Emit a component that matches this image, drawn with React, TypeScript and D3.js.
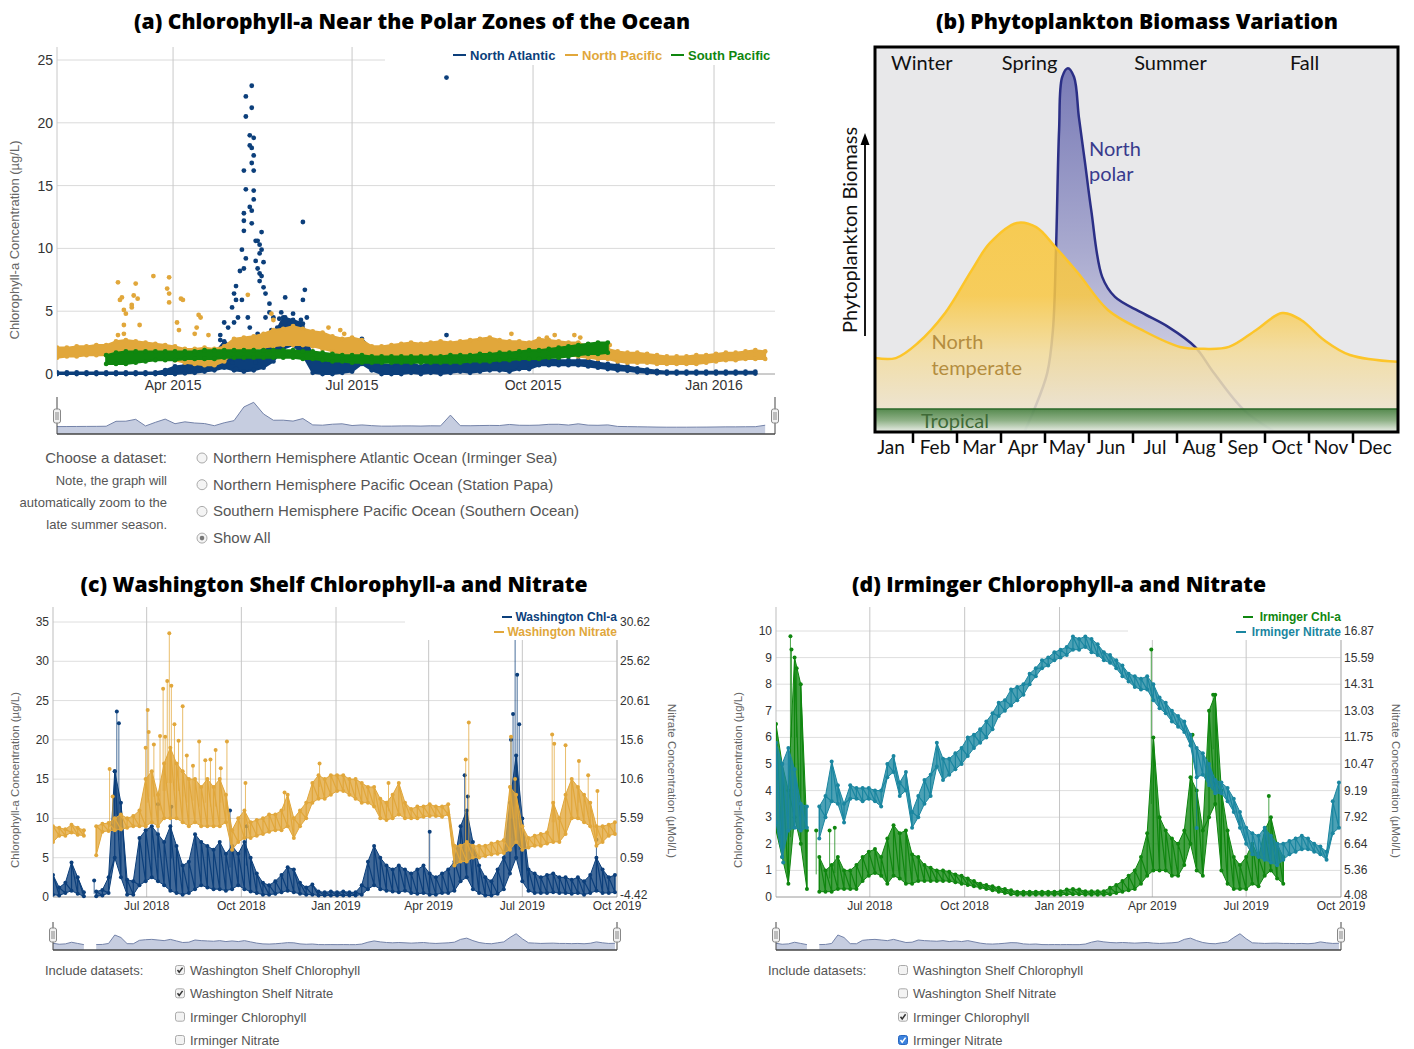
import React from "react";
import * as d3 from "d3";

type Peak = [string, number];
type Pt = [number, number];
type Val = number | null;

const parseDay = d3.utcParse("%Y-%m-%d");
const monthYear = d3.utcFormat("%b %Y");

const NAVY = "#0c3f7b";
const GOLD = "#e1a73b";
const GREEN = "#0f860f";
const TEAL = "#1a86a0";
const SANS = "'Liberation Sans', Arial, Helvetica, sans-serif";
const HEAD = "'Open Sans', 'Noto Sans', sans-serif";
const MYRIAD = "Lato, 'Open Sans', sans-serif";

// ---------- (a) Chlorophyll-a near the polar zones, 5-day bins from 1 Feb 2015 ----------
const polarStart = "2015-02-01";
const polarEnd = "2016-02-01";
const polarStep = 5;
const polarYTicks = [0, 5, 10, 15, 20, 25];
const polarXTicks = ["2015-04-01", "2015-07-01", "2015-10-01", "2016-01-01"];
const polarNames = ["North Atlantic", "North Pacific", "South Pacific"];

const atlanticLo: Val[] = [
  0, 0, 0, 0, 0, 0, 0, 0, 0, 0,
  0, 0, 0, 0.05, 0.1, 0.2, 0.3, 0.5, 0.3, 0.2,
  0.3, 0.5, 1.0, 2.0, 2.3, 1.5, 0.1, 0, 0, 0.1,
  0.2, 0.8, 0.3, 0, 0, 0, 0.1, 0, 0.1, 0,
  0.1, 0.2, 0.1, 0.2, 0.3, 0.3, 0.2, 0.4, 0.4, 0.7,
  0.7, 0.7, 0.7, 0.7, 0.6, 0.5, 0.4, 0.3, 0.25, 0.15,
  0.1, 0.05, 0.03, 0.03, 0.03, 0.03, 0.03, 0.03, 0.03, 0.03,
  0.03, 0.03, null,
];
const atlanticHi: Val[] = [
  0.12, 0.12, 0.12, 0.12, 0.12, 0.12, 0.12, 0.12, 0.12, 0.12,
  0.12, 0.3, 0.6, 0.7, 1.0, 1.3, 1.6, 2.6, 2.0, 1.2,
  1.5, 2.0, 3.0, 4.5, 4.3, 4.0, 1.2, 1.0, 0.9, 1.2,
  1.5, 2.8, 2.0, 0.8, 0.7, 1.0, 0.9, 0.6, 1.0, 0.8,
  1.3, 1.2, 1.0, 1.1, 1.2, 1.0, 1.3, 1.3, 1.2, 1.2,
  1.2, 1.1, 1.1, 1.1, 1.1, 0.9, 0.8, 0.7, 0.6, 0.45,
  0.35, 0.25, 0.18, 0.18, 0.18, 0.18, 0.18, 0.18, 0.18, 0.18,
  0.18, 0.18, null,
];
const pacificLo: Val[] = [
  1.3, 1.4, 1.4, 1.5, 1.5, 1.5, 1.7, 1.8, 1.8, 1.6,
  1.5, 1.4, 1.1, 0.9, 0.8, 0.7, 0.7, 1.0, 1.8, 2.0,
  2.0, 2.1, 2.2, 2.3, 2.3, 2.3, 2.2, 2.0, 1.8, 1.5,
  1.2, 1.1, 1.1, 1.2, 1.3, 1.4, 1.4, 1.4, 1.5, 1.5,
  1.4, 1.4, 1.3, 1.4, 1.5, 1.4, 1.5, 1.6, 1.5, 1.5,
  1.6, 1.5, 1.5, 1.4, 1.3, 1.2, 1.2, 1.0, 0.9, 0.9,
  0.9, 0.8, 0.8, 0.8, 0.8, 0.8, 0.9, 1.0, 1.1, 1.1,
  1.2, 1.2, 1.2,
];
const pacificHi: Val[] = [
  2.1, 2.1, 2.2, 2.2, 2.3, 2.3, 2.6, 2.7, 2.6, 2.5,
  2.4, 2.3, 2.2, 2.0, 2.0, 2.1, 2.0, 2.2, 2.8, 2.9,
  3.0, 3.2, 3.5, 3.6, 3.8, 3.6, 3.4, 3.3, 3.0, 2.8,
  2.9, 2.7, 2.2, 2.2, 2.3, 2.4, 2.5, 2.4, 2.5, 2.6,
  2.5, 2.6, 2.7, 2.8, 2.9, 2.7, 2.6, 2.6, 2.5, 2.8,
  2.7, 2.6, 2.5, 2.5, 2.2, 2.1, 2.0, 1.8, 1.7, 1.7,
  1.6, 1.5, 1.4, 1.4, 1.4, 1.5, 1.5, 1.6, 1.7, 1.7,
  1.8, 1.9, 1.8,
];
const southLo: Val[] = [
  null, null, null, null, null, 0.8, 0.8, 0.8, 0.9, 1.0,
  1.1, 1.1, 1.1, 1.2, 1.2, 1.2, 1.2, 1.3, 1.3, 1.3,
  1.3, 1.3, 1.3, 1.3, 1.3, 1.2, 1.2, 1.1, 1.0, 1.0,
  0.9, 0.9, 0.9, 0.9, 0.9, 0.9, 0.9, 0.9, 0.9, 0.9,
  0.9, 0.9, 1.0, 1.0, 1.0, 1.1, 1.1, 1.2, 1.2, 1.2,
  1.3, 1.3, 1.4, 1.5, 1.6, 1.6, 1.7,
];
const southHi: Val[] = [
  null, null, null, null, null, 1.5, 1.7, 1.8, 1.8, 1.8,
  1.8, 1.8, 1.8, 1.8, 1.8, 1.9, 1.9, 1.9, 1.9, 1.9,
  1.9, 1.9, 1.9, 1.9, 1.9, 1.8, 1.8, 1.7, 1.6, 1.5,
  1.5, 1.5, 1.4, 1.4, 1.4, 1.4, 1.4, 1.4, 1.4, 1.4,
  1.5, 1.5, 1.5, 1.6, 1.6, 1.7, 1.7, 1.8, 1.9, 1.9,
  2.0, 2.1, 2.2, 2.3, 2.4, 2.5, 2.5,
];
const atlanticBloom: Peak[] = [
  ["2015-04-25", 3.1], ["2015-04-25", 2.7], ["2015-04-27", 4.1], ["2015-04-29", 3.7],
  ["2015-05-01", 5.3], ["2015-05-01", 0.9], ["2015-05-02", 6.4], ["2015-05-02", 4.1],
  ["2015-05-03", 7.0], ["2015-05-03", 0.4], ["2015-05-03", 5.9], ["2015-05-04", 4.5],
  ["2015-05-05", 8.2], ["2015-05-06", 9.9], ["2015-05-06", 5.9], ["2015-05-07", 12.2],
  ["2015-05-07", 16.2], ["2015-05-07", 12.8], ["2015-05-07", 11.4], ["2015-05-07", 8.4],
  ["2015-05-08", 22.1], ["2015-05-08", 9.2], ["2015-05-08", 20.5], ["2015-05-08", 14.7],
  ["2015-05-09", 4.5], ["2015-05-10", 19.0], ["2015-05-10", 18.2], ["2015-05-10", 13.3],
  ["2015-05-10", 3.7], ["2015-05-11", 21.2], ["2015-05-11", 18.0], ["2015-05-11", 16.8],
  ["2015-05-11", 13.0], ["2015-05-11", 12.0], ["2015-05-11", 22.95], ["2015-05-12", 14.6],
  ["2015-05-12", 13.9], ["2015-05-12", 18.8], ["2015-05-12", 17.4], ["2015-05-12", 16.2],
  ["2015-05-13", 10.6], ["2015-05-13", 9.0], ["2015-05-13", 0.9], ["2015-05-14", 10.6],
  ["2015-05-14", 8.4], ["2015-05-14", 3.2], ["2015-05-15", 10.3], ["2015-05-15", 9.6],
  ["2015-05-15", 8.0], ["2015-05-15", 7.4], ["2015-05-16", 11.3], ["2015-05-16", 9.9],
  ["2015-05-16", 7.8], ["2015-05-16", 2.7], ["2015-05-17", 6.9], ["2015-05-17", 8.9],
  ["2015-05-18", 6.4], ["2015-05-18", 4.5], ["2015-05-20", 5.6], ["2015-05-20", 4.9],
  ["2015-05-21", 3.5], ["2015-05-22", 4.5], ["2015-05-24", 3.7], ["2015-05-25", 4.4],
  ["2015-05-26", 4.9], ["2015-05-27", 3.2], ["2015-05-28", 6.1], ["2015-05-28", 4.5],
  ["2015-05-29", 3.3], ["2015-05-30", 4.0], ["2015-06-01", 4.8], ["2015-06-03", 3.7],
  ["2015-06-03", 3.2], ["2015-06-04", 2.7], ["2015-06-05", 4.3], ["2015-06-06", 5.9],
  ["2015-06-06", 3.4], ["2015-06-06", 12.1], ["2015-06-07", 6.7], ["2015-06-08", 4.5],
  ["2015-06-08", 3.2], ["2015-08-18", 23.6], ["2015-08-18", 3.1],
];
const pacificSpikes: Peak[] = [
  ["2015-03-04", 7.3], ["2015-03-05", 5.9], ["2015-03-06", 6.1], ["2015-03-07", 5.1],
  ["2015-03-07", 3.9], ["2015-03-07", 3.2], ["2015-03-08", 4.8], ["2015-03-04", 3.1],
  ["2015-03-11", 5.3], ["2015-03-11", 5.5], ["2015-03-12", 6.25], ["2015-03-13", 7.2],
  ["2015-03-14", 6.0], ["2015-03-15", 3.9], ["2015-03-22", 7.8], ["2015-03-29", 6.8],
  ["2015-03-30", 6.4], ["2015-03-30", 7.7], ["2015-03-30", 5.7], ["2015-04-03", 4.1],
  ["2015-04-04", 3.5], ["2015-04-05", 6.0], ["2015-04-06", 5.9], ["2015-04-12", 3.2],
  ["2015-04-13", 3.7], ["2015-04-14", 4.7], ["2015-04-15", 4.5], ["2015-04-19", 3.1],
  ["2015-05-09", 6.3], ["2015-05-21", 4.8], ["2015-05-22", 4.3], ["2015-06-19", 3.7],
  ["2015-06-25", 3.5], ["2015-06-27", 3.2], ["2015-09-20", 3.2], ["2015-10-08", 2.9],
  ["2015-10-12", 3.1], ["2015-10-22", 3.1], ["2015-10-25", 2.9], ["2015-11-09", 2.3],
];
const radioOptions = [
  "Northern Hemisphere Atlantic Ocean (Irminger Sea)",
  "Northern Hemisphere Pacific Ocean (Station Papa)",
  "Southern Hemisphere Pacific Ocean (Southern Ocean)",
  "Show All",
];
const noteLines = ["Note, the graph will", "automatically zoom to the", "late summer season."];

// ---------- (b) seasonal biomass sketch (month, relative biomass 0-100) ----------
const months = ["Jan", "Feb", "Mar", "Apr", "May", "Jun", "Jul", "Aug", "Sep", "Oct", "Nov", "Dec"];
const seasons = ["Winter", "Spring", "Summer", "Fall"];
const seasonMonth = [1.2, 3.65, 6.85, 9.9];
const temperateBiomass: Pt[] = [
  [0.14, 19.2], [0.61, 19.2], [1.11, 23.1], [1.73, 30.9], [2.34, 42.1], [2.75, 49.1],
  [3.36, 54.3], [3.8, 53.2], [4.23, 48.1], [4.75, 41.3], [5.43, 31.7], [6.2, 26.5],
  [7.07, 22.1], [7.61, 21.6], [8.18, 22.1], [8.8, 26.5], [9.39, 30.9], [9.82, 29.1],
  [10.34, 23.9], [10.93, 20.0], [12.05, 18.2],
];
const polarBiomass: Pt[] = [
  [3.53, 0], [3.75, 5.7], [4.05, 15.3], [4.18, 26.5], [4.25, 47.3], [4.32, 78.4],
  [4.39, 92.2], [4.52, 94.5], [4.66, 92.2], [4.77, 81.8], [4.91, 69.9], [5.05, 57.7],
  [5.3, 40.3], [5.59, 35.1], [6.2, 31.0], [6.8, 27.3], [7.41, 22.1], [7.84, 15.3],
  [8.52, 5.7], [9.23, 0],
];
const tropicalBiomass = 6;

// ---------- (c)/(d) coastal and Irminger moorings, 6-day bins from 1 Apr 2018 ----------
const shelfStart = "2018-04-01";
const shelfEnd = "2019-10-01";
const shelfStep = 6;
const shelfXTicks = ["2018-07-01", "2018-10-01", "2019-01-01", "2019-04-01", "2019-07-01", "2019-10-01"];
const washLeftTicks = [0, 5, 10, 15, 20, 25, 30, 35];
const washRightTicks = [-4.42, 0.59, 5.59, 10.6, 15.6, 20.61, 25.62, 30.62];
const irmLeftTicks = [0, 1, 2, 3, 4, 5, 6, 7, 8, 9, 10];
const irmRightTicks = [4.08, 5.36, 6.64, 7.92, 9.19, 10.47, 11.75, 13.03, 14.31, 15.59, 16.87];
const datasets = ["Washington Shelf Chlorophyll", "Washington Shelf Nitrate", "Irminger Chlorophyll", "Irminger Nitrate"];

const washChlLo: Val[] = [
  0.3, 0.2, 0.5, 0.8, 0.4, 0.1, null, 0.1, 0.2, 0.5,
  5.0, 2.5, 0.3, 0.3, 1.5, 2.0, 2.5, 2.0, 1.5, 0.8,
  0.5, 0.3, 0.5, 1.0, 1.5, 1.2, 1.0, 1.0, 0.8, 1.0,
  1.5, 1.0, 0.7, 0.5, 0.3, 0.3, 0.4, 0.6, 0.8, 0.6,
  0.4, 0.3, 0.3, 0.2, 0.2, 0.2, 0.2, 0.2, 0.2, 0.2,
  0.3, 1.0, 1.5, 1.0, 0.8, 0.7, 0.6, 0.8, 0.5, 0.4,
  0.5, 0.3, 0.3, 0.5, 0.5, 0.8, 2.0, 2.5, 1.0, 0.5,
  0.2, 0.2, 0.4, 1.0, 3.0, 5.0, 2.0, 0.8, 0.5, 0.5,
  0.5, 0.6, 0.5, 0.5, 0.4, 0.5, 0.3, 0.5, 0.8, 0.5,
  0.5, 0.6,
];
const washChlHi: Val[] = [
  2.8, 1.2, 1.8, 4.4, 2.5, 0.6, null, 0.7, 0.9, 2.5,
  16, 12, 2.2, 2.0, 7.5, 8.5, 9.0, 8.0, 7.0, 9.0,
  6.5, 4.0, 4.5, 8.0, 7.0, 6.5, 6.0, 7.0, 5.5, 6.5,
  5.5, 7.0, 5.0, 3.0, 1.8, 1.5, 2.0, 2.8, 3.8, 3.5,
  1.8, 1.2, 1.6, 0.7, 0.6, 0.7, 0.6, 0.7, 0.6, 0.6,
  1.5, 4.5, 6.5, 5.0, 4.0, 3.5, 4.0, 3.5, 3.0, 3.5,
  4.0, 3.0, 2.5, 3.0, 3.5, 4.5, 9.0, 11.0, 7.0, 4.0,
  2.5, 2.0, 3.5, 5.0, 12.0, 18.0, 10.0, 3.5, 3.0, 2.5,
  2.8, 3.0, 2.5, 2.5, 2.2, 2.5, 2.0, 2.8, 5.0, 3.5,
  2.5, 2.8,
];
const washChlPeaks: Peak[] = [
  ["2018-05-11", 2.1], ["2018-05-31", 16], ["2018-06-02", 23.6], ["2018-06-04", 22.1],
  ["2018-07-12", 11.8], ["2018-07-25", 11.5], ["2018-09-20", 11.0], ["2018-10-06", 9.0],
  ["2019-04-02", 8.3], ["2019-05-06", 15.5], ["2019-05-09", 12.8], ["2019-06-20", 20.0],
  ["2019-06-22", 23.3], ["2019-06-24", 36.0], ["2019-06-26", 28.3], ["2019-06-28", 22.0],
  ["2019-09-11", 7.3],
];
const washNitLo: Val[] = [
  2.6, 3.4, 3.4, 3.8, 3.5, 3.4, null, 0.9, 3.9, 4.0,
  4.1, 4.2, 4.4, 4.6, 4.6, 4.6, 5.1, 4.6, 5.6, 5.6,
  5.6, 5.1, 4.6, 5.1, 4.6, 4.6, 4.6, 4.6, 5.1, 1.6,
  2.6, 3.1, 3.1, 3.4, 3.6, 3.9, 4.1, 4.1, 4.6, 3.1,
  4.6, 5.6, 7.6, 8.1, 8.1, 8.6, 9.1, 9.1, 8.6, 8.1,
  7.6, 7.6, 7.1, 5.6, 5.4, 5.6, 6.1, 5.6, 5.6, 5.6,
  5.8, 5.9, 5.9, 5.8, 6.1, -0.4, 0.1, 0.1, 0.6, 0.6,
  0.8, 1.0, 1.1, 1.2, 1.6, 2.6, 1.6, 1.9, 2.1, 2.1,
  2.4, 2.6, 2.6, 3.6, 5.6, 5.6, 5.1, 4.6, 2.1, 2.6,
  3.4, 3.6,
];
const washNitHi: Val[] = [
  4.6, 4.4, 4.2, 4.8, 4.4, 4.1, null, 4.6, 4.9, 5.0,
  5.6, 6.1, 5.6, 5.9, 6.6, 10.6, 11.6, 8.6, 12.6, 14.6,
  12.6, 11.6, 10.6, 10.6, 9.6, 10.6, 9.6, 10.6, 8.6, 4.1,
  5.6, 6.6, 5.1, 5.4, 5.6, 6.1, 6.1, 6.6, 8.6, 5.6,
  6.6, 7.6, 10.1, 11.1, 10.6, 11.1, 11.1, 11.1, 10.6, 10.6,
  10.1, 9.6, 9.6, 8.1, 7.6, 8.6, 10.1, 7.6, 6.8, 7.1,
  7.1, 7.4, 7.1, 7.1, 7.4, 2.1, 2.1, 2.6, 2.1, 2.1,
  2.1, 2.4, 2.6, 2.8, 9.6, 8.6, 4.6, 3.1, 3.4, 3.6,
  3.8, 7.6, 5.6, 8.6, 10.6, 9.6, 8.6, 7.6, 4.6, 4.6,
  4.8, 5.1,
];
const washNitPeaks: Peak[] = [
  ["2018-05-26", 11.9], ["2018-05-29", 8.4], ["2018-06-30", 14.6], ["2018-07-02", 19.4],
  ["2018-07-03", 16.6], ["2018-07-08", 15.0], ["2018-07-14", 16.1], ["2018-07-17", 22.1],
  ["2018-07-19", 16.0], ["2018-07-21", 23.1], ["2018-07-23", 29.2], ["2018-07-25", 22.5],
  ["2018-07-28", 17.6], ["2018-08-01", 15.5], ["2018-08-05", 19.9], ["2018-08-09", 13.6],
  ["2018-08-15", 12.3], ["2018-08-21", 15.4], ["2018-08-27", 13.0], ["2018-09-01", 13.1],
  ["2018-09-06", 14.3], ["2018-09-11", 12.0], ["2018-09-17", 15.4], ["2018-10-05", 10.1],
  ["2018-11-12", 8.9], ["2018-12-16", 12.6], ["2019-02-21", 10.1], ["2019-05-07", 13.1],
  ["2019-05-10", 17.8], ["2019-06-20", 16.0], ["2019-06-24", 10.6], ["2019-07-30", 16.3],
  ["2019-08-01", 15.1], ["2019-08-12", 14.9], ["2019-08-25", 12.9], ["2019-09-03", 11.1],
  ["2019-09-12", 9.1],
];
const irmChlLo: Val[] = [
  2.5, 1.5, 0.5, 3.0, 2.0, 0.3, null, 0.2, 0.2, 0.2,
  0.3, 0.3, 0.3, 0.3, 0.6, 0.8, 0.9, 0.8, 0.5, 0.8,
  0.7, 0.5, 0.5, 0.6, 0.6, 0.6, 0.6, 0.6, 0.6, 0.55,
  0.5, 0.45, 0.4, 0.35, 0.3, 0.25, 0.2, 0.15, 0.1, 0.08,
  0.08, 0.08, 0.08, 0.08, 0.08, 0.08, 0.08, 0.1, 0.1, 0.1,
  0.08, 0.08, 0.08, 0.08, 0.1, 0.15, 0.2, 0.25, 0.3, 0.5,
  0.8, 1.0, 1.0, 1.0, 0.8, 0.8, 1.2, 2.0, 1.0, 0.8,
  3.0, 3.5, 1.0, 0.5, 0.3, 0.3, 0.3, 0.5, 0.4, 0.8,
  1.0, 0.7, 0.5,
];
const irmChlHi: Val[] = [
  6.5, 5.0, 4.0, 9.0, 8.0, 2.5, null, 1.5, 1.0, 1.2,
  1.5, 1.0, 1.0, 1.2, 1.5, 1.7, 1.8, 1.5, 2.2, 2.7,
  2.4, 2.5, 1.6, 1.5, 1.2, 1.1, 1.0, 1.0, 0.95, 0.85,
  0.8, 0.7, 0.6, 0.5, 0.45, 0.4, 0.35, 0.3, 0.25, 0.2,
  0.2, 0.2, 0.2, 0.2, 0.2, 0.2, 0.22, 0.28, 0.3, 0.28,
  0.22, 0.22, 0.22, 0.22, 0.35, 0.45, 0.6, 0.8, 1.0, 1.5,
  2.4, 6.0, 3.0, 2.5, 2.2, 2.0, 2.5, 4.5, 4.0, 2.5,
  7.0, 7.6, 4.0, 2.5, 1.5, 1.2, 1.5, 2.0, 1.5, 2.5,
  3.0, 2.0, 1.5,
];
const irmChlPeaks: Peak[] = [
  ["2018-04-15", 9.8], ["2018-04-16", 9.3], ["2018-04-21", 8.6], ["2018-05-10", 2.5],
  ["2018-05-23", 2.5], ["2018-05-28", 2.6], ["2019-03-31", 9.3], ["2019-05-10", 6.1],
  ["2019-05-30", 7.6], ["2019-07-23", 3.8],
];
const irmNitLo: Val[] = [
  7.66, 6.0, 7.28, 7.41, 7.28, 7.41, null, 6.89, 7.92, 8.68,
  8.56, 7.66, 8.81, 8.81, 8.68, 8.81, 8.68, 8.43, 9.84, 10.09,
  8.94, 9.2, 7.41, 7.92, 8.56, 8.94, 10.35, 9.71, 9.96, 10.22,
  10.48, 10.86, 11.24, 11.5, 11.75, 12.14, 12.78, 13.03, 13.29, 13.54,
  13.8, 14.31, 14.7, 15.08, 15.21, 15.46, 15.59, 15.72, 15.97, 15.97,
  16.1, 15.85, 15.72, 15.46, 15.34, 15.08, 14.7, 14.44, 14.18, 14.06,
  14.06, 13.54, 13.16, 12.91, 12.52, 12.27, 12.01, 11.37, 9.84, 9.96,
  9.45, 9.07, 9.07, 8.68, 8.17, 7.41, 6.64, 6.13, 6.0, 5.87,
  5.74, 5.61, 5.87, 6.13, 6.25, 6.38, 6.38, 6.25, 6.13, 5.87,
  7.15, 7.41,
];
const irmNitHi: Val[] = [
  11.5, 10.48, 11.24, 10.22, 8.56, 8.43, null, 8.43, 8.94, 10.6,
  9.45, 8.56, 9.45, 9.32, 9.32, 9.32, 9.2, 9.2, 10.48, 10.86,
  9.58, 10.09, 8.17, 8.94, 9.71, 9.96, 11.5, 10.73, 10.73, 10.99,
  11.24, 11.75, 11.88, 12.14, 12.52, 12.91, 13.42, 13.54, 14.06, 14.18,
  14.31, 14.82, 15.08, 15.46, 15.59, 15.85, 15.97, 16.1, 16.61, 16.49,
  16.61, 16.49, 16.23, 15.85, 15.72, 15.46, 15.21, 14.82, 14.7, 14.57,
  14.7, 14.31, 13.67, 13.42, 13.03, 12.78, 12.52, 11.88, 11.24, 10.99,
  10.48, 9.71, 9.58, 9.32, 8.81, 8.17, 7.41, 7.15, 7.02, 7.41,
  7.02, 6.64, 6.64, 6.77, 6.89, 7.02, 6.89, 6.64, 6.51, 6.25,
  8.68, 9.58,
];
const irmNitPeaks: Peak[] = [["2018-04-08", 5.74], ["2019-05-14", 7.4]];

// ---------- helpers ----------
function binDays(start: string, step: number, n: number) {
  const s = parseDay(start)!;
  return d3.range(n).map((i) => d3.utcDay.offset(s, i * step));
}

function Band({ x, y, start, step, lo, hi, peaks, color, dot, stems }: any) {
  const days = binDays(start, step, lo.length);
  const rows = days.map((d: Date, i: number) => ({ d, lo: lo[i], hi: hi[i] }));
  const ok = (r: any) => r && r.lo != null && r.hi != null;
  const area = d3
    .area<any>()
    .defined(ok)
    .x((r) => x(r.d))
    .y0((r) => y(r.lo))
    .y1((r) => y(r.hi));
  // sawtooth through bin extremes: lo, hi, next lo, next hi ...
  const zig = rows.flatMap((r: any) => [
    { d: r.d, v: r.lo },
    { d: r.d, v: r.hi },
  ]);
  const zigLine = d3
    .line<any>()
    .defined((p) => p.v != null)
    .x((p) => x(p.d))
    .y((p) => y(p.v));
  return (
    <g>
      <path
        d={area(rows) ?? ""}
        fill={color}
        fillOpacity={stems ? 0.78 : 1}
        stroke={color}
        strokeWidth={stems ? 1 : 2}
        strokeLinejoin="round"
      />
      {stems && <path d={zigLine(zig) ?? ""} fill="none" stroke={color} strokeWidth={1.2} />}
      {rows.filter(ok).map((r: any, i: number) => (
        <g key={i}>
          <circle cx={x(r.d)} cy={y(r.lo)} r={dot} fill={color} />
          <circle cx={x(r.d)} cy={y(r.hi)} r={dot} fill={color} />
        </g>
      ))}
      {peaks.map(([ds, v]: Peak, i: number) => {
        const d = parseDay(ds)!;
        const k = Math.max(0, Math.min(rows.length - 1, Math.round(d3.utcDay.count(days[0], d) / step)));
        const row = rows[k];
        const base = ok(row) ? (row.lo + row.hi) / 2 : v;
        return (
          <g key={"p" + i}>
            {stems && (
              <line x1={x(d)} x2={x(d)} y1={y(base)} y2={y(v)} stroke={color} strokeWidth={1} strokeOpacity={0.75} />
            )}
            <circle cx={x(d)} cy={y(v)} r={dot} fill={color} />
          </g>
        );
      })}
    </g>
  );
}

function Navigator({ x, y, points, base, lineTop, handleY }: any) {
  const [x0, x1] = x.range();
  const area = d3
    .area<any>()
    .x((p) => x(p[0]))
    .y0(base)
    .y1((p) => y(p[1]))
    .defined((p) => p[1] != null);
  const line = area.lineY1();
  return (
    <g>
      <path d={area(points) ?? ""} fill="#c6cde0" />
      <path d={line(points) ?? ""} fill="none" stroke="#7483a9" strokeWidth={1} />
      <line x1={x0} x2={x1} y1={base} y2={base} stroke="#444" strokeWidth={1.5} />
      {[x0, x1].map((hx: number, i: number) => (
        <g key={i}>
          <line x1={hx} x2={hx} y1={lineTop} y2={base} stroke="#444" strokeWidth={1} />
          <rect x={hx - 3.5} y={handleY - 7} width={7} height={14} rx={2} fill="#f2f2f2" stroke="#888" />
          <line x1={hx - 1} x2={hx - 1} y1={handleY - 4} y2={handleY + 4} stroke="#888" />
          <line x1={hx + 1} x2={hx + 1} y1={handleY - 4} y2={handleY + 4} stroke="#888" />
        </g>
      ))}
    </g>
  );
}

function Checkbox({ cx, cy, checked, focus }: any) {
  return (
    <g>
      <rect
        x={cx - 4.5}
        y={cy - 4.5}
        width={9}
        height={9}
        rx={2}
        fill={focus ? "#3c82de" : "#f3f3f3"}
        stroke={focus ? "#2767c0" : "#aaa"}
      />
      {checked && (
        <path
          d={`M${cx - 2.5},${cy} L${cx - 0.8},${cy + 2.2} L${cx + 2.6},${cy - 2.4}`}
          fill="none"
          stroke={focus ? "#fff" : "#333"}
          strokeWidth={1.5}
        />
      )}
    </g>
  );
}

// ---------- panel (a) ----------
function PanelA() {
  const x = d3.scaleUtc([parseDay(polarStart)!, parseDay(polarEnd)!], [57, 775]);
  const y = d3.scaleLinear([0, 25], [374, 60]);
  const top = 47;
  const colors = [NAVY, GOLD, GREEN];
  const legendX = [453, 565, 671];

  const days = binDays(polarStart, polarStep, atlanticHi.length);
  const bands: [Val[], Val[]][] = [
    [atlanticLo, atlanticHi],
    [pacificLo, pacificHi],
    [southLo, southHi],
  ];
  const scattered = [...atlanticBloom, ...pacificSpikes];
  const navPoints = days.map((d, i) => {
    const vals: number[] = [];
    bands.forEach(([lo, hi]) => {
      if (lo[i] != null && hi[i] != null) vals.push(((lo[i] as number) + (hi[i] as number)) / 2);
    });
    scattered.forEach(([ds, v]) => {
      if (Math.round(d3.utcDay.count(days[0], parseDay(ds)!) / polarStep) === i) vals.push(v);
    });
    return [d, d3.mean(vals) ?? 0];
  });
  const navY = d3.scaleLinear([-2.5, 13], [434, 400]);

  return (
    <g>
      <defs>
        <clipPath id="clipA">
          <rect x={57} y={top} width={718} height={331} />
        </clipPath>
      </defs>
      <text x={412} y={29} textAnchor="middle" fontFamily={HEAD} fontWeight={800} fontSize={21} textLength={556} lengthAdjust="spacingAndGlyphs">
        (a) Chlorophyll-a Near the Polar Zones of the Ocean
      </text>
      {polarYTicks.slice(1).map((t) => (
        <line key={t} x1={57} x2={775} y1={y(t)} y2={y(t)} stroke="#dadada" />
      ))}
      {polarXTicks.map((t) => (
        <line key={t} x1={x(parseDay(t)!)} x2={x(parseDay(t)!)} y1={top} y2={374} stroke="#c9c9c9" />
      ))}
      <line x1={57} x2={57} y1={top} y2={374} stroke="#c8c8c8" />
      <line x1={57} x2={775} y1={374} y2={374} stroke="#9a9a9a" />
      <g clipPath="url(#clipA)">
        <Band x={x} y={y} start={polarStart} step={polarStep} lo={atlanticLo} hi={atlanticHi} peaks={atlanticBloom} color={NAVY} dot={2.4} />
        <Band x={x} y={y} start={polarStart} step={polarStep} lo={pacificLo} hi={pacificHi} peaks={pacificSpikes} color={GOLD} dot={2.4} />
        <Band x={x} y={y} start={polarStart} step={polarStep} lo={southLo} hi={southHi} peaks={[]} color={GREEN} dot={2.4} />
      </g>
      <rect x={385} y={38} width={392} height={27} fill="#fff" />
      {polarNames.map((n, i) => (
        <g key={n}>
          <line x1={legendX[i]} x2={legendX[i] + 13} y1={55} y2={55} stroke={colors[i]} strokeWidth={2} />
          <text x={legendX[i] + 17} y={60} fontSize={13} fontWeight={700} fill={colors[i]}>
            {n}
          </text>
        </g>
      ))}
      {polarYTicks.map((t) => (
        <text key={t} x={53} y={y(t) + 5} textAnchor="end" fontSize={14} fill="#333">
          {t}
        </text>
      ))}
      {polarXTicks.map((t) => (
        <text key={t} x={x(parseDay(t)!)} y={390} textAnchor="middle" fontSize={14} fill="#333">
          {monthYear(parseDay(t)!)}
        </text>
      ))}
      <text transform="translate(19,240) rotate(-90)" textAnchor="middle" fontSize={13} fill="#666">
        Chlorophyll-a Concentration (µg/L)
      </text>
      <Navigator x={x} y={navY} points={navPoints} base={434} lineTop={397} handleY={416} />
      <text x={167} y={463} textAnchor="end" fontSize={15} fill="#555">
        Choose a dataset:
      </text>
      {noteLines.map((t, i) => (
        <text key={t} x={167} y={485 + 22 * i} textAnchor="end" fontSize={13} fill="#555">
          {t}
        </text>
      ))}
      {radioOptions.map((t, i) => (
        <g key={t}>
          <circle cx={202} cy={458 + 26.7 * i} r={5} fill="#f4f4f4" stroke="#aaa" />
          {i === radioOptions.length - 1 && <circle cx={202} cy={458 + 26.7 * i} r={2.3} fill="#777" />}
          <text x={213} y={463 + 26.7 * i} fontSize={15} fill="#555">
            {t}
          </text>
        </g>
      ))}
    </g>
  );
}

// ---------- panel (b) ----------
function PanelB() {
  const x = d3.scaleLinear([0, 12], [869, 1397]);
  const y = d3.scaleLinear([0, 100], [432, 47]);
  const band = d3.scaleBand(months, [869, 1397]);
  const curve = d3.curveCatmullRom.alpha(0.5);
  const area = d3
    .area<Pt>()
    .x((d) => x(d[0]))
    .y0(y(0))
    .y1((d) => y(d[1]))
    .curve(curve);
  const line = d3
    .line<Pt>()
    .x((d) => x(d[0]))
    .y((d) => y(d[1]))
    .curve(curve);
  return (
    <g fontFamily={MYRIAD}>
      <defs>
        <clipPath id="clipB">
          <rect x={875} y={47} width={523} height={385} />
        </clipPath>
        <linearGradient id="gTemp" gradientUnits="userSpaceOnUse" x1={0} x2={0} y1={y(54.5)} y2={y(0)}>
          <stop offset="0" stopColor="#f9c63a" />
          <stop offset="0.35" stopColor="#f9c844" />
          <stop offset="0.62" stopColor="#f4dc9a" />
          <stop offset="1" stopColor="#ebe6e0" />
        </linearGradient>
        <linearGradient id="gPolar" gradientUnits="userSpaceOnUse" x1={0} x2={0} y1={y(94.5)} y2={y(0)}>
          <stop offset="0" stopColor="#787ab6" />
          <stop offset="0.5" stopColor="#a9aacf" />
          <stop offset="1" stopColor="#e5e4ee" />
        </linearGradient>
        <linearGradient id="gTrop" gradientUnits="userSpaceOnUse" x1={0} x2={0} y1={y(tropicalBiomass)} y2={y(0)}>
          <stop offset="0" stopColor="#3b7a38" />
          <stop offset="0.5" stopColor="#7fa879" />
          <stop offset="1" stopColor="#eef2ec" />
        </linearGradient>
      </defs>
      <text x={1137} y={29} textAnchor="middle" fontFamily={HEAD} fontWeight={800} fontSize={21} textLength={402} lengthAdjust="spacingAndGlyphs">
        (b) Phytoplankton Biomass Variation
      </text>
      <rect x={875} y={47} width={523} height={385} fill="#e8e8ea" />
      <g clipPath="url(#clipB)">
        <path d={area(polarBiomass) ?? ""} fill="url(#gPolar)" />
        <path d={line(polarBiomass) ?? ""} fill="none" stroke="#2b2f86" strokeWidth={2.5} />
        <path d={area(temperateBiomass) ?? ""} fill="url(#gTemp)" fillOpacity={0.86} />
        <path d={line(temperateBiomass) ?? ""} fill="none" stroke="#fcc52a" strokeWidth={2.5} />
        <rect x={875} y={y(tropicalBiomass)} width={523} height={y(0) - y(tropicalBiomass)} fill="url(#gTrop)" fillOpacity={0.85} />
        <line x1={875} x2={1398} y1={y(tropicalBiomass)} y2={y(tropicalBiomass)} stroke="#2d6a2d" strokeWidth={1.5} />
      </g>
      <rect x={875} y={47} width={523} height={385} fill="none" stroke="#000" strokeWidth={3} />
      {seasons.map((s, i) => (
        <text key={s} x={x(seasonMonth[i])} y={70} textAnchor="middle" fontSize={20} fill="#111">
          {s}
        </text>
      ))}
      <text x={x(5.0)} y={156} fontSize={20} fill="#393b8d">North</text>
      <text x={x(5.0)} y={181} fontSize={20} fill="#393b8d">polar</text>
      <text x={x(1.42)} y={349} fontSize={20} fill="#b48d3f">North</text>
      <text x={x(1.42)} y={375} fontSize={20} fill="#b48d3f">temperate</text>
      <text x={x(1.18)} y={428} fontSize={20} fill="#3f6a37">Tropical</text>
      {months.map((m, i) => (
        <g key={m}>
          {i > 0 && <line x1={band(m)!} x2={band(m)!} y1={432} y2={443} stroke="#000" strokeWidth={2.5} />}
          <text x={band(m)! + band.bandwidth() / 2} y={454} textAnchor="middle" fontSize={19} fill="#111">
            {m}
          </text>
        </g>
      ))}
      <text transform="translate(857,230) rotate(-90)" textAnchor="middle" fontSize={20} fill="#111">
        Phytoplankton Biomass
      </text>
      <line x1={865} x2={865} y1={336} y2={142} stroke="#000" strokeWidth={1.8} />
      <path d="M865,133 L860.5,145 L869.5,145 Z" fill="#000" />
    </g>
  );
}

// ---------- panels (c) and (d) ----------
function ShelfPanel(p: any) {
  const { left, right, title, titleX, titleW, leftMax, leftTicks, rightTicks, series, legend, legendDash, boxX, clipId } = p;
  const top = 607;
  const bottom = 897;
  const yTop = leftMax === 35 ? 622 : 631;
  const x = d3.scaleUtc([parseDay(shelfStart)!, parseDay(shelfEnd)!], [left, right]);
  const yL = d3.scaleLinear([0, leftMax], [bottom, yTop]);
  const yR = d3.scaleLinear([rightTicks[0], rightTicks[rightTicks.length - 1]], [bottom, yTop]);
  const navDays = binDays(shelfStart, shelfStep, washChlHi.length);
  const navPoints = navDays.map((d, i) => [d, washChlHi[i]]);
  const navY = d3.scaleLinear([-8, 24], [950, 930]);
  const rowsY = [0, 23.3, 46.7, 70];
  return (
    <g>
      <defs>
        <clipPath id={clipId}>
          <rect x={left} y={top} width={right - left} height={bottom - top + 3} />
        </clipPath>
      </defs>
      <text x={titleX} y={592} textAnchor="middle" fontFamily={HEAD} fontWeight={800} fontSize={21} textLength={titleW} lengthAdjust="spacingAndGlyphs">
        {title}
      </text>
      {leftTicks.slice(1).map((t: number) => (
        <line key={t} x1={left} x2={right} y1={yL(t)} y2={yL(t)} stroke="#dedede" />
      ))}
      {shelfXTicks.map((t) => (
        <line key={t} x1={x(parseDay(t)!)} x2={x(parseDay(t)!)} y1={top} y2={bottom} stroke="#c6c6c6" />
      ))}
      <line x1={left} x2={left} y1={top} y2={bottom} stroke="#bdbdbd" />
      <line x1={right} x2={right} y1={top} y2={bottom} stroke="#bdbdbd" />
      <line x1={left} x2={right} y1={bottom} y2={bottom} stroke="#9a9a9a" />
      <g clipPath={`url(#${clipId})`}>
        {series.map((s: any, i: number) => (
          <Band key={i} x={x} y={i === 0 ? yL : yR} start={shelfStart} step={shelfStep} lo={s.lo} hi={s.hi} peaks={s.peaks} color={s.color} dot={2} stems />
        ))}
      </g>
      <rect x={boxX} y={602} width={right + 1 - boxX} height={38} fill="#fff" />
      {legend.map(([label, color]: [string, string], i: number) => (
        <g key={label}>
          <line x1={legendDash[i]} x2={legendDash[i] + 10} y1={617 + 15 * i} y2={617 + 15 * i} stroke={color} strokeWidth={2} />
          <text x={right} y={621 + 15 * i} textAnchor="end" fontSize={12} fontWeight={700} fill={color}>
            {label}
          </text>
        </g>
      ))}
      {leftTicks.map((t: number) => (
        <text key={t} x={left - 4} y={yL(t) + 4} textAnchor="end" fontSize={12} fill="#333">
          {t}
        </text>
      ))}
      {rightTicks.map((t: number, i: number) => (
        <text key={t} x={right + 3} y={yR(t) + (i === 0 ? 2 : 4)} fontSize={12} fill="#333">
          {t}
        </text>
      ))}
      {shelfXTicks.map((t) => (
        <text key={t} x={x(parseDay(t)!)} y={910} textAnchor="middle" fontSize={12} fill="#333">
          {monthYear(parseDay(t)!)}
        </text>
      ))}
      <text transform={`translate(${left - 34},780) rotate(-90)`} textAnchor="middle" fontSize={11.5} fill="#666">
        Chlorophyll-a Concentration (µg/L)
      </text>
      <text transform={`translate(${right + 51},781) rotate(90)`} textAnchor="middle" fontSize={11.5} fill="#666">
        Nitrate Concentration (µMol/L)
      </text>
      <Navigator x={x} y={navY} points={navPoints} base={950} lineTop={922} handleY={935} />
      <text x={left - 8} y={975} fontSize={13} fill="#555">
        Include datasets:
      </text>
      {datasets.map((t, i) => (
        <g key={t}>
          <Checkbox cx={left + 127} cy={970 + rowsY[i]} checked={p.checked[i]} focus={p.focus === i} />
          <text x={left + 137} y={975 + rowsY[i]} fontSize={13} fill="#555">
            {t}
          </text>
        </g>
      ))}
    </g>
  );
}

export default function App() {
  return (
    <svg
      width={1414}
      height={1049}
      viewBox="0 0 1414 1049"
      style={{ position: "absolute", left: 0, top: 0, background: "#fff" }}
      fontFamily={SANS}
    >
      <rect width={1414} height={1049} fill="#fff" />
      <PanelA />
      <PanelB />
      <ShelfPanel
        clipId="clipC"
        left={53}
        right={617}
        title="(c) Washington Shelf Chlorophyll-a and Nitrate"
        titleX={334}
        titleW={507}
        leftMax={35}
        leftTicks={washLeftTicks}
        rightTicks={washRightTicks}
        series={[
          { lo: washChlLo, hi: washChlHi, peaks: washChlPeaks, color: NAVY },
          { lo: washNitLo, hi: washNitHi, peaks: washNitPeaks, color: GOLD },
        ]}
        legend={[
          ["Washington Chl-a", NAVY],
          ["Washington Nitrate", GOLD],
        ]}
        legendDash={[502, 494]}
        boxX={405}
        checked={[true, true, false, false]}
        focus={-1}
      />
      <ShelfPanel
        clipId="clipD"
        left={776}
        right={1341}
        title="(d) Irminger Chlorophyll-a and Nitrate"
        titleX={1059}
        titleW={414}
        leftMax={10}
        leftTicks={irmLeftTicks}
        rightTicks={irmRightTicks}
        series={[
          { lo: irmChlLo, hi: irmChlHi, peaks: irmChlPeaks, color: GREEN },
          { lo: irmNitLo, hi: irmNitHi, peaks: irmNitPeaks, color: TEAL },
        ]}
        legend={[
          ["Irminger Chl-a", GREEN],
          ["Irminger Nitrate", TEAL],
        ]}
        legendDash={[1243, 1236]}
        boxX={1128}
        checked={[false, false, true, true]}
        focus={3}
      />
    </svg>
  );
}
